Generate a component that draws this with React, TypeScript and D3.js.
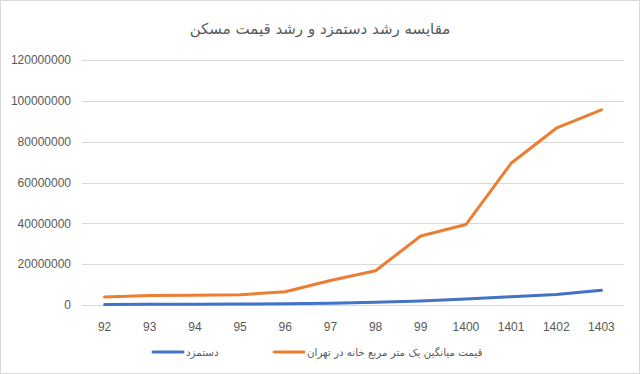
import React, { useEffect, useRef } from "react";
import * as d3 from "d3";

const years = ["92", "93", "94", "95", "96", "97", "98", "99", "1400", "1401", "1402", "1403"];
const wage = [300000, 350000, 420000, 500000, 620000, 900000, 1300000, 1900000, 2900000, 4100000, 5200000, 7200000];
const housePrice = [3900000, 4600000, 4800000, 5000000, 6500000, 12000000, 16800000, 33800000, 39400000, 69400000, 86600000, 95600000];
const yTicks = [0, 20000000, 40000000, 60000000, 80000000, 100000000, 120000000];

const title = "مقایسه رشد دستمزد و رشد قیمت مسکن";
const wageLabel = "دستمزد";
const priceLabel = "قیمت میانگین یک متر مربع  خانه در تهران";

const W = 640;
const H = 374;

const App = () => {
  const ref = useRef<SVGSVGElement>(null);

  useEffect(() => {
    const svg = d3.select(ref.current);
    svg.selectAll("*").remove();

    const margin = { top: 60, right: 16, bottom: 69, left: 82 };
    const innerW = W - margin.left - margin.right;
    const innerH = H - margin.top - margin.bottom;

    svg.append("rect")
      .attr("x", 0.5).attr("y", 0.5)
      .attr("width", W - 1).attr("height", H - 1)
      .attr("fill", "#fff").attr("stroke", "#d9d9d9");

    svg.append("text")
      .attr("x", W / 2).attr("y", 34)
      .attr("text-anchor", "middle")
      .attr("font-family", "DejaVu Sans")
      .attr("font-size", 15)
      .attr("fill", "#595959")
      .text(title);

    const g = svg.append("g").attr("transform", `translate(${margin.left},${margin.top})`);

    const x = d3.scaleBand().domain(years).range([0, innerW]);
    const y = d3.scaleLinear().domain([0, 120000000]).range([innerH, 0]);

    // grid
    g.selectAll("line.grid")
      .data(yTicks)
      .enter()
      .append("line")
      .attr("x1", 0).attr("x2", innerW)
      .attr("y1", (d) => Math.round(y(d)) + 0.5)
      .attr("y2", (d) => Math.round(y(d)) + 0.5)
      .attr("stroke", "#d9d9d9");

    // y labels
    g.selectAll("text.ylab")
      .data(yTicks)
      .enter()
      .append("text")
      .attr("x", -11)
      .attr("y", (d) => y(d))
      .attr("dy", "0.35em")
      .attr("text-anchor", "end")
      .attr("font-family", "Liberation Sans")
      .attr("font-size", 12)
      .attr("fill", "#595959")
      .text((d) => String(d));

    // x labels
    g.selectAll("text.xlab")
      .data(years)
      .enter()
      .append("text")
      .attr("x", (d) => x(d)! + x.bandwidth() / 2)
      .attr("y", innerH + 22)
      .attr("dy", "0.35em")
      .attr("text-anchor", "middle")
      .attr("font-family", "Liberation Sans")
      .attr("font-size", 12)
      .attr("fill", "#595959")
      .text((d) => d);

    const line = d3.line<number>()
      .x((_, i) => x(years[i])! + x.bandwidth() / 2)
      .y((d) => y(d));

    g.append("path")
      .attr("d", line(wage))
      .attr("fill", "none")
      .attr("stroke", "#4472c4")
      .attr("stroke-width", 3)
      .attr("stroke-linejoin", "round")
      .attr("stroke-linecap", "round");

    g.append("path")
      .attr("d", line(housePrice))
      .attr("fill", "none")
      .attr("stroke", "#ed7d31")
      .attr("stroke-width", 3)
      .attr("stroke-linejoin", "round")
      .attr("stroke-linecap", "round");

    // legend
    const ly = 352;
    const legend = [
      { x1: 153, x2: 183, tx: 186, color: "#4472c4", label: wageLabel },
      { x1: 274, x2: 304, tx: 307, color: "#ed7d31", label: priceLabel },
    ];
    legend.forEach((l) => {
      svg.append("line")
        .attr("x1", l.x1).attr("x2", l.x2)
        .attr("y1", ly).attr("y2", ly)
        .attr("stroke", l.color)
        .attr("stroke-width", 3)
        .attr("stroke-linecap", "round");
      svg.append("text")
        .attr("x", l.tx).attr("y", ly)
        .attr("dy", "0.35em")
        .attr("text-anchor", "start")
        .attr("font-family", "DejaVu Sans")
        .attr("font-size", 10.3)
        .attr("fill", "#595959")
        .text(l.label);
    });
  }, []);

  return (
    <svg
      ref={ref}
      width={W}
      height={H}
      style={{ position: "fixed", top: 0, left: 0, display: "block" }}
    />
  );
};

export default App;
